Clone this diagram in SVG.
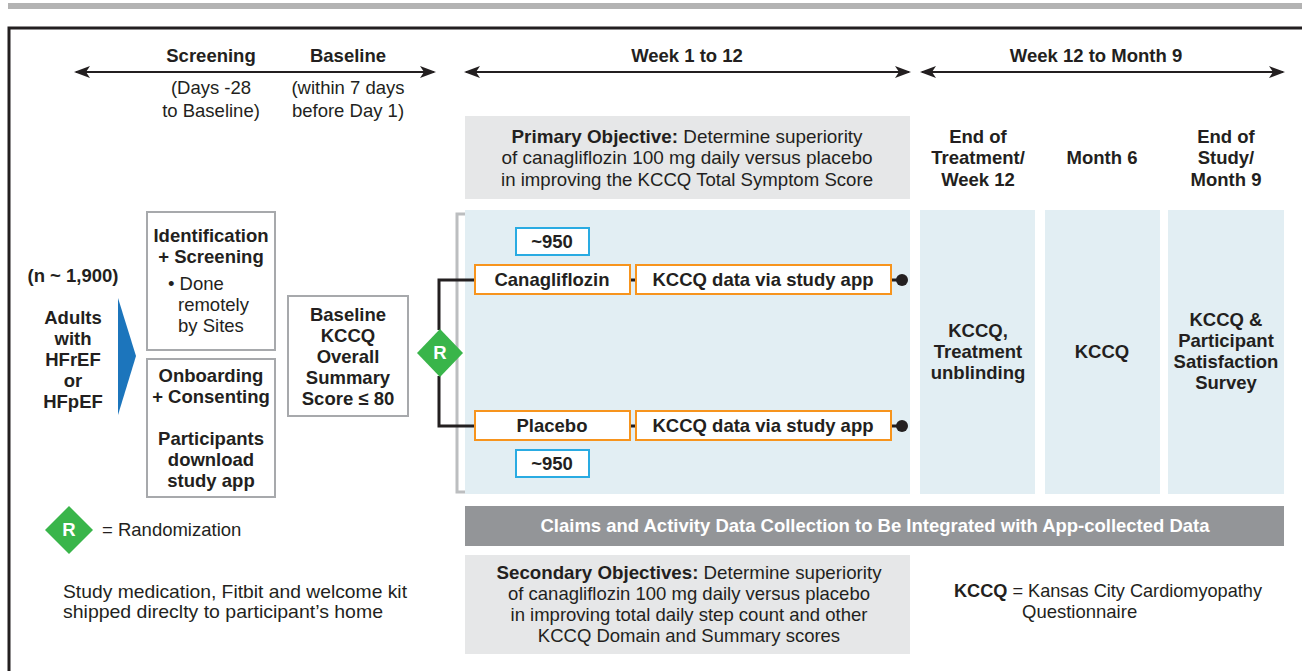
<svg xmlns="http://www.w3.org/2000/svg" width="1302" height="671" viewBox="0 0 1302 671">
<defs>
<marker id="ah" viewBox="0 0 16 12" refX="14" refY="6" markerWidth="16" markerHeight="12" markerUnits="userSpaceOnUse" orient="auto-start-reverse">
<path d="M0,0 L16,6 L0,12 L4,6 Z" fill="#231f20"/>
</marker>
</defs>
<style>
text{font-family:"Liberation Sans",Arial,sans-serif;fill:#231f20;font-size:18.5px}
.b{font-weight:bold}
.c{text-anchor:middle}
.box{fill:#fff;stroke:#a7a9ac;stroke-width:2}
.org{fill:#fff;stroke:#f7941d;stroke-width:2}
.blu{fill:#fff;stroke:#29abe2;stroke-width:2}
.pan{fill:#e2eef3}
.gry{fill:#e6e7e8}
.ln{stroke:#231f20;stroke-width:3;fill:none}
.tl{stroke:#231f20;stroke-width:2;fill:none}
</style>
<rect width="1302" height="671" fill="#fff"/>
<rect x="8" y="3" width="1294" height="6" fill="#b3b3b3"/>
<path d="M9,671 V28 H1302" stroke="#231f20" stroke-width="3" fill="none"/>

<g id="timeline">
<line class="tl" x1="76" y1="72" x2="434" y2="72" marker-start="url(#ah)" marker-end="url(#ah)"/>
<line class="tl" x1="466" y1="72" x2="909" y2="72" marker-start="url(#ah)" marker-end="url(#ah)"/>
<line class="tl" x1="922" y1="72" x2="1283" y2="72" marker-start="url(#ah)" marker-end="url(#ah)"/>
<text class="b c" x="211" y="62">Screening</text>
<text class="b c" x="348" y="62">Baseline</text>
<text class="c" x="211" y="94">(Days -28</text>
<text class="c" x="211" y="117">to Baseline)</text>
<text class="c" x="348" y="94">(within 7 days</text>
<text class="c" x="348" y="117">before Day 1)</text>
<text class="b c" x="687" y="62">Week 1 to 12</text>
<text class="b c" x="1096" y="62">Week 12 to Month 9</text>
</g>

<g id="primary">
<rect class="gry" x="465" y="116" width="445" height="83"/>
<text class="c" x="687" y="143" textLength="351" lengthAdjust="spacingAndGlyphs"><tspan class="b">Primary Objective:</tspan> Determine superiority</text>
<text class="c" x="687" y="164" textLength="371" lengthAdjust="spacingAndGlyphs">of canagliflozin 100 mg daily versus placebo</text>
<text class="c" x="687" y="186" textLength="372" lengthAdjust="spacingAndGlyphs">in improving the KCCQ Total Symptom Score</text>
</g>

<g id="headers">
<text class="b c" x="978" y="143">End of</text>
<text class="b c" x="978" y="164">Treatment/</text>
<text class="b c" x="978" y="186">Week 12</text>
<text class="b c" x="1102" y="164">Month 6</text>
<text class="b c" x="1226" y="143">End of</text>
<text class="b c" x="1226" y="164">Study/</text>
<text class="b c" x="1226" y="186">Month 9</text>
</g>

<g id="panels">
<rect class="pan" x="465" y="210" width="445" height="284"/>
<rect class="pan" x="920" y="210" width="115" height="284"/>
<rect class="pan" x="1045" y="210" width="115" height="284"/>
<rect class="pan" x="1168" y="210" width="116" height="284"/>
<path d="M465,214 H457 V492 H465" stroke="#bcbec0" stroke-width="3" fill="none"/>
</g>

<g id="population">
<text class="b c" x="73" y="282">(n ~ 1,900)</text>
<text class="b c" x="73" y="324">Adults</text>
<text class="b c" x="73" y="345">with</text>
<text class="b c" x="73" y="366">HFrEF</text>
<text class="b c" x="73" y="387">or</text>
<text class="b c" x="73" y="408">HFpEF</text>
<path d="M118,298 L136,356 L118,415 Z" fill="#1c75bc"/>
</g>

<g id="screening">
<rect class="box" x="147" y="212" width="128" height="138"/>
<text class="b c" x="211" y="242">Identification</text>
<text class="b c" x="211" y="263">+ Screening</text>
<text x="168" y="290">• Done</text>
<text x="178" y="311">remotely</text>
<text x="178" y="332">by Sites</text>
</g>

<g id="onboarding">
<rect class="box" x="147" y="359" width="128" height="138"/>
<text class="b c" x="211" y="382">Onboarding</text>
<text class="b c" x="211" y="403">+ Consenting</text>
<text class="b c" x="211" y="445">Participants</text>
<text class="b c" x="211" y="466">download</text>
<text class="b c" x="211" y="487">study app</text>
</g>

<g id="baseline">
<rect class="box" x="288" y="296" width="120" height="120"/>
<text class="b c" x="348" y="321">Baseline</text>
<text class="b c" x="348" y="342">KCCQ</text>
<text class="b c" x="348" y="363">Overall</text>
<text class="b c" x="348" y="384">Summary</text>
<text class="b c" x="348" y="405">Score ≤ 80</text>
</g>

<g id="connectors">
<path class="ln" d="M439,330 V280 H476"/>
<path class="ln" d="M439,376 V426 H476"/>
<line class="ln" x1="630" y1="280" x2="636" y2="280"/>
<line class="ln" x1="630" y1="426" x2="636" y2="426"/>
<line class="ln" x1="891" y1="280" x2="900" y2="280"/>
<line class="ln" x1="891" y1="426" x2="900" y2="426"/>
<circle cx="902" cy="280" r="6" fill="#231f20"/>
<circle cx="902" cy="426" r="6" fill="#231f20"/>
</g>

<g id="randomization">
<path d="M440,329 L463,353 L440,377 L417,353 Z" fill="#39b54a"/>
<text class="b c" x="440" y="359" style="fill:#fff">R</text>
</g>

<g id="arm-cana">
<rect class="blu" x="516" y="228" width="73" height="27"/>
<text class="b c" x="552" y="248">~950</text>
<rect class="org" x="475" y="265" width="155" height="29"/>
<text class="b c" x="552" y="286">Canagliflozin</text>
<rect class="org" x="636" y="265" width="255" height="29"/>
<text class="b c" x="763" y="286">KCCQ data via study app</text>
</g>

<g id="arm-placebo">
<rect class="org" x="475" y="411" width="155" height="29"/>
<text class="b c" x="552" y="432">Placebo</text>
<rect class="org" x="636" y="411" width="255" height="29"/>
<text class="b c" x="763" y="432">KCCQ data via study app</text>
<rect class="blu" x="516" y="450" width="73" height="27"/>
<text class="b c" x="552" y="470">~950</text>
</g>

<g id="visits">
<text class="b c" x="978" y="337">KCCQ,</text>
<text class="b c" x="978" y="358">Treatment</text>
<text class="b c" x="978" y="379">unblinding</text>
<text class="b c" x="1102" y="358">KCCQ</text>
<text class="b c" x="1226" y="326">KCCQ &amp;</text>
<text class="b c" x="1226" y="347">Participant</text>
<text class="b c" x="1226" y="368">Satisfaction</text>
<text class="b c" x="1226" y="389">Survey</text>
</g>

<g id="claims">
<rect x="465" y="506" width="819" height="40" fill="#939598"/>
<text class="b c" x="875" y="532" style="fill:#fff" textLength="669" lengthAdjust="spacingAndGlyphs">Claims and Activity Data Collection to Be Integrated with App-collected Data</text>
</g>

<g id="secondary">
<rect class="gry" x="465" y="555" width="445" height="99"/>
<text class="c" x="689" y="579" textLength="385" lengthAdjust="spacingAndGlyphs"><tspan class="b">Secondary Objectives:</tspan> Determine superiority</text>
<text class="c" x="689" y="600">of canagliflozin 100 mg daily versus placebo</text>
<text class="c" x="689" y="621">in improving total daily step count and other</text>
<text class="c" x="689" y="642">KCCQ Domain and Summary scores</text>
</g>

<g id="legend">
<path d="M69,506 L93,530 L69,554 L45,530 Z" fill="#39b54a"/>
<text class="b c" x="69" y="536" style="fill:#fff">R</text>
<text x="102" y="536">= Randomization</text>
<text x="63" y="598" textLength="344" lengthAdjust="spacingAndGlyphs">Study medication, Fitbit and welcome kit</text>
<text x="63" y="618" textLength="320" lengthAdjust="spacingAndGlyphs">shipped direclty to participant’s home</text>
<text x="954" y="597" textLength="308" lengthAdjust="spacingAndGlyphs"><tspan class="b">KCCQ</tspan> = Kansas City Cardiomyopathy</text>
<text x="1022" y="618">Questionnaire</text>
</g>
</svg>
